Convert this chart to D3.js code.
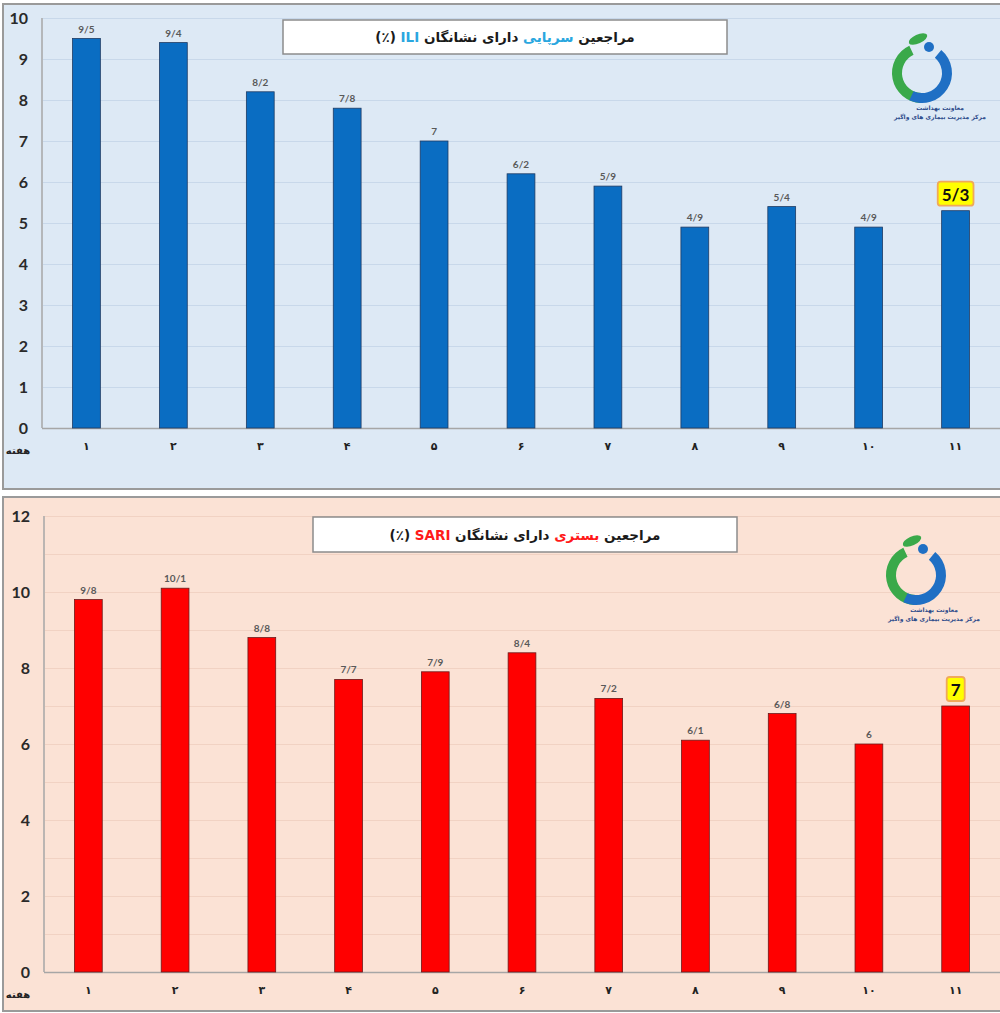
<!DOCTYPE html>
<html>
<head>
<meta charset="utf-8">
<script src="https://cdn.jsdelivr.net/npm/d3@7"></script>
<style>
body{margin:0;background:#fff;}
svg{display:block;}
</style>
</head>
<body>
<div id="chart"></div>
<script>
// weekly values (percent)
var weeks = [1, 2, 3, 4, 5, 6, 7, 8, 9, 10, 11];
var iliValues = [9.5, 9.4, 8.2, 7.8, 7, 6.2, 5.9, 4.9, 5.4, 4.9, 5.3];
var sariValues = [9.8, 10.1, 8.8, 7.7, 7.9, 8.4, 7.2, 6.1, 6.8, 6, 7];
var iliTicks = [0, 1, 2, 3, 4, 5, 6, 7, 8, 9, 10];
var sariTicks = [0, 2, 4, 6, 8, 10, 12];
var weekTitle = 'هفته';
var iliTitle = [['مراجعین ', null], ['سرپایی', '#2aa7df'], [' دارای نشانگان ', null], ['ILI', '#2aa7df'], [' (٪)', null]];
var sariTitle = [['مراجعین ', null], ['بستری', '#ff1a1a'], [' دارای نشانگان ', null], ['SARI', '#ff1a1a'], [' (٪)', null]];
var logoLines = ['معاونت بهداشت', 'مرکز مدیریت بیماری های واگیر'];

var W = 1000, H = 1013;
var svg = d3.select('#chart').append('svg')
    .attr('width', W)
    .attr('height', H);

function faDigits(s){
    return String(s).replace(/\d/g, function(c){ return '۰۱۲۳۴۵۶۷۸۹'[c]; });
}
function valLabel(v){
    return String(v).replace('.', '/');
}

function drawLogo(g, cx, cy){
    var lg = g.append('g').attr('transform', 'translate(' + cx + ',' + cy + ')');
    var deg = Math.PI / 180;
    // green half, left side
    lg.append('path')
	.attr('d', d3.arc()({innerRadius: 20, outerRadius: 30, startAngle: -178 * deg, endAngle: -25 * deg, cornerRadius: 4}))
	.attr('fill', '#3aa94a');
    // blue half, right side
    lg.append('path')
	.attr('d', d3.arc()({innerRadius: 20, outerRadius: 30, startAngle: 40 * deg, endAngle: 205 * deg, cornerRadius: 4}))
	.attr('fill', '#1f6fc4');
    lg.append('circle').attr('cx', 7).attr('cy', -26).attr('r', 5).attr('fill', '#1f6fc4');
    // leaf
    lg.append('ellipse').attr('cx', -4).attr('cy', -34).attr('rx', 10).attr('ry', 4.5)
	.attr('transform', 'rotate(-25,-4,-34)').attr('fill', '#3aa94a');
    lg.selectAll('text.logo').data(logoLines).enter().append('text')
	.attr('class', 'logo')
	.attr('x', 18)
	.attr('y', function(d, i){ return 37 + i * 9; })
	.attr('text-anchor', 'middle')
	.attr('direction', 'rtl')
	.style('font-family', 'DejaVu Sans')
	.style('font-size', '6px')
	.style('font-weight', 'bold')
	.attr('fill', '#2b4a8a')
	.text(function(d){ return d; });
}

function drawPanel(cfg){
    var g = svg.append('g');

    g.append('rect')
	.attr('x', 3).attr('y', cfg.panelTop)
	.attr('width', W + 5).attr('height', cfg.panelH)
	.attr('fill', cfg.bg)
	.attr('stroke', '#9a9a9a').attr('stroke-width', 2);

    var x = d3.scaleBand().domain(weeks)
	.range([cfg.left, 999])
	.paddingInner(0.68).paddingOuter(0.34);
    var y = d3.scaleLinear().domain([0, cfg.max]).range([cfg.bottom, cfg.top]);

    // grid
    g.append('g')
	.attr('transform', 'translate(' + cfg.left + ',0)')
	.call(d3.axisLeft(y).tickValues(d3.range(1, cfg.max + 1)).tickSize(-(W - cfg.left)).tickFormat(''))
	.call(function(a){ a.select('.domain').remove(); })
	.selectAll('line').attr('stroke', cfg.grid).attr('stroke-width', 1);

    // y labels
    var ya = g.append('g')
	.attr('transform', 'translate(' + cfg.labelX + ',0)')
	.call(d3.axisLeft(y).tickValues(cfg.ticks).tickSize(0).tickPadding(0));
    ya.select('.domain').remove();
    ya.selectAll('text')
	.style('font-family', 'Lato').style('font-weight', 'bold').style('font-size', '16px')
	.attr('fill', '#2a2a2a');

    // axis lines
    g.append('line')
	.attr('x1', cfg.left - 1).attr('x2', cfg.left - 1)
	.attr('y1', y(cfg.max)).attr('y2', cfg.bottom)
	.attr('stroke', '#a6a6a6').attr('stroke-width', 1.5);
    g.append('line')
	.attr('x1', cfg.left - 1).attr('x2', W)
	.attr('y1', cfg.bottom + 0.5).attr('y2', cfg.bottom + 0.5)
	.attr('stroke', '#a6a6a6').attr('stroke-width', 1.5);

    // bars
    g.selectAll('rect.bar').data(cfg.values).enter().append('rect')
	.attr('class', 'bar')
	.attr('x', function(d, i){ return x(weeks[i]); })
	.attr('y', function(d){ return y(d); })
	.attr('width', x.bandwidth())
	.attr('height', function(d){ return cfg.bottom - y(d); })
	.attr('fill', cfg.color)
	.attr('stroke', cfg.edge).attr('stroke-width', 0.8);

    // value labels (last one is highlighted)
    var n = cfg.values.length;
    g.selectAll('text.val').data(cfg.values.slice(0, n - 1)).enter().append('text')
	.attr('class', 'val')
	.attr('x', function(d, i){ return x(weeks[i]) + x.bandwidth() / 2; })
	.attr('y', function(d){ return y(d) - 6; })
	.attr('text-anchor', 'middle')
	.style('font-family', 'Lato').style('font-weight', 'bold').style('font-size', '10px')
	.attr('fill', '#595959')
	.text(valLabel);

    var last = cfg.values[n - 1];
    var hx = x(weeks[n - 1]) + x.bandwidth() / 2;
    var hy = y(last) - 10;
    var hl = g.append('g');
    var ht = hl.append('text')
	.attr('x', hx).attr('y', hy)
	.attr('text-anchor', 'middle')
	.style('font-family', 'Lato').style('font-weight', 'bold').style('font-size', '17px')
	.attr('fill', '#111')
	.text(valLabel(last));
    var bb = ht.node().getBBox();
    hl.insert('rect', 'text')
	.attr('x', bb.x - 4).attr('y', hy - 19)
	.attr('width', bb.width + 8).attr('height', 24)
	.attr('rx', 3)
	.attr('fill', '#ffff00')
	.attr('stroke', '#f0a95a').attr('stroke-width', 1.8);

    // x labels
    var xa = g.append('g')
	.attr('transform', 'translate(0,' + (cfg.bottom + 14) + ')')
	.call(d3.axisBottom(x).tickSize(0).tickPadding(0).tickFormat(faDigits));
    xa.select('.domain').remove();
    xa.selectAll('text')
	.style('font-family', 'DejaVu Sans').style('font-weight', 'bold').style('font-size', '11px')
	.attr('fill', '#222');
    g.append('text')
	.attr('x', 18).attr('y', cfg.bottom + 26)
	.attr('text-anchor', 'middle')
	.attr('direction', 'rtl')
	.style('font-family', 'DejaVu Sans').style('font-weight', 'bold').style('font-size', '10px')
	.attr('fill', '#222')
	.text(weekTitle);

    // title box
    g.append('rect')
	.attr('x', cfg.box[0]).attr('y', cfg.box[1])
	.attr('width', cfg.box[2]).attr('height', cfg.box[3])
	.attr('fill', '#fff')
	.attr('stroke', '#8c8c8c').attr('stroke-width', 1.5);
    var tt = g.append('text')
	.attr('x', cfg.box[0] + cfg.box[2] / 2)
	.attr('y', cfg.box[1] + cfg.box[3] / 2 + 5)
	.attr('text-anchor', 'middle')
	.attr('direction', 'rtl')
	.style('font-family', 'DejaVu Sans').style('font-weight', 'bold').style('font-size', '13.5px')
	.attr('fill', '#1a1a1a');
    tt.selectAll('tspan').data(cfg.title).enter().append('tspan')
	.attr('fill', function(d){ return d[1] || '#1a1a1a'; })
	.text(function(d){ return d[0]; });

    drawLogo(g, cfg.logo[0], cfg.logo[1]);
}

drawPanel({
    panelTop: 4, panelH: 485, bg: '#dde9f5', grid: '#c8d8ea',
    left: 43, top: 18, bottom: 428, max: 10, labelX: 28,
    ticks: iliTicks, values: iliValues,
    color: '#0a6dc2', edge: '#1f3b63',
    box: [283, 20, 444, 34], title: iliTitle,
    logo: [922, 73]
});

drawPanel({
    panelTop: 497, panelH: 514, bg: '#fbe2d5', grid: '#f1d2c3',
    left: 45, top: 516, bottom: 972, max: 12, labelX: 30,
    ticks: sariTicks, values: sariValues,
    color: '#ff0000', edge: '#6b1a1a',
    box: [313, 517, 424, 35], title: sariTitle,
    logo: [916, 575]
});
</script>
</body>
</html>
